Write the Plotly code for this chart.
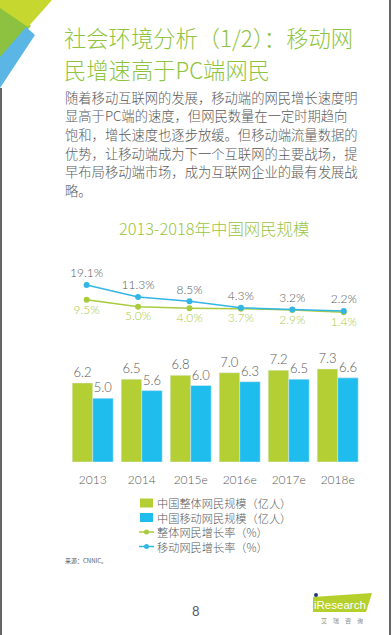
import plotly.graph_objects as go

W, H = 392, 635

# ---- data ----
years = ["2013", "2014", "2015e", "2016e", "2017e", "2018e"]
total_users = [6.2, 6.5, 6.8, 7.0, 7.2, 7.3]        # 中国整体网民规模（亿人）
mobile_users = [5.0, 5.6, 6.0, 6.3, 6.5, 6.6]       # 中国移动网民规模（亿人）
total_growth = [9.5, 5.0, 4.0, 3.7, 2.9, 1.4]       # 整体网民增长率（%）
mobile_growth = [19.1, 11.3, 8.5, 4.3, 3.2, 2.2]    # 移动网民增长率（%）
series_names = ["中国整体网民规模（亿人）", "中国移动网民规模（亿人）",
                "整体网民增长率（%）", "移动网民增长率（%）"]

title_lines = ["社会环境分析（1/2）：移动网", "民增速高于PC端网民"]
body_lines = [
    "随着移动互联网的发展，移动端的网民增长速度明",
    "显高于PC端的速度，但网民数量在一定时期趋向",
    "饱和，增长速度也逐步放缓。但移动端流量数据的",
    "优势，让移动端成为下一个互联网的主要战场，提",
    "早布局移动端市场，成为互联网企业的最有发展战",
    "略。",
]
chart_title = "2013-2018年中国网民规模"
source_text = "来源：CNNIC。"

GREEN_BAR = "#B3CF34"
BLUE_BAR = "#1FBDEE"
GREEN_LINE = "#A8CB3E"
BLUE_LINE = "#33B6E6"
GRAY = "#595959"
TITLE_GREEN = "#8FC43F"
CJK = "Noto Sans CJK SC"
NUM = "Lato"


def px(x):
    return x / W


def py(y):
    return 1 - y / H


fig = go.Figure()

fig.add_trace(go.Bar(
    x=years, y=total_users, name=series_names[0], marker_color=GREEN_BAR,
    text=[f"{v:.1f}" for v in total_users], textposition="outside",
    textfont=dict(color=GRAY, size=13, family=NUM, weight=300), cliponaxis=False,
    xaxis="x", yaxis="y", showlegend=False))
fig.add_trace(go.Bar(
    x=years, y=mobile_users, name=series_names[1], marker_color=BLUE_BAR,
    text=[f"{v:.1f}" for v in mobile_users], textposition="outside",
    textfont=dict(color=GRAY, size=13, family=NUM, weight=300), cliponaxis=False,
    xaxis="x", yaxis="y", showlegend=False))
fig.add_trace(go.Scatter(
    x=years, y=total_growth, name=series_names[2], mode="lines+markers+text",
    line=dict(color=GREEN_LINE, width=1.5), marker=dict(size=6, color=GREEN_LINE),
    text=[f"{v:.1f}%" for v in total_growth], textposition="bottom center",
    textfont=dict(color="#A9C94A", size=12, family=NUM, weight=300), cliponaxis=False,
    xaxis="x2", yaxis="y2", showlegend=False))
fig.add_trace(go.Scatter(
    x=years, y=mobile_growth, name=series_names[3], mode="lines+markers+text",
    line=dict(color=BLUE_LINE, width=1.5), marker=dict(size=6, color=BLUE_LINE),
    text=[f"{v:.1f}%" for v in mobile_growth], textposition="top center",
    textfont=dict(color=GRAY, size=12, family=NUM, weight=300), cliponaxis=False,
    xaxis="x2", yaxis="y2", showlegend=False))

xdom = [px(68.2), px(362.2)]
fig.update_layout(
    width=W, height=H, margin=dict(l=0, r=0, t=0, b=0),
    paper_bgcolor="white", plot_bgcolor="rgba(0,0,0,0)",
    barmode="group", bargap=0.163, bargroupgap=0,
    font=dict(family=CJK, color=GRAY),
    xaxis=dict(domain=xdom, anchor="y", showgrid=False, zeroline=False, showline=False,
               tickfont=dict(size=12, color=GRAY, family=NUM, weight=300), ticks="",
               ticklabelstandoff=9),
    yaxis=dict(domain=[py(462), py(360)], range=[0, 8], visible=False, anchor="x"),
    xaxis2=dict(domain=xdom, anchor="y2", visible=False),
    yaxis2=dict(domain=[py(314.4), py(283.6)], range=[0, 20], visible=False, anchor="x2"),
    showlegend=False,
)

ann = []
shapes = []
# top-left decoration
shapes.append(dict(type="path", xref="paper", yref="paper",
                   path=f"M {px(0)},{py(4)} L {px(31)},{py(26)} L {px(0)},{py(58)} Z",
                   fillcolor="#8CC23F", line=dict(width=0)))
shapes.append(dict(type="path", xref="paper", yref="paper",
                   path=f"M {px(0)},{py(0)} L {px(52)},{py(0)} L {px(28)},{py(27)} L {px(0)},{py(8)} Z",
                   fillcolor="#C6D830", line=dict(width=0)))
shapes.append(dict(type="path", xref="paper", yref="paper",
                   path=f"M {px(26)},{py(27)} L {px(35)},{py(35)} L {px(0)},{py(88)} L {px(0)},{py(57)} Z",
                   fillcolor="#5BB6E6", line=dict(width=0)))
# page borders
shapes.append(dict(type="line", xref="paper", yref="paper", x0=px(1), x1=px(1), y0=0, y1=py(88),
                   line=dict(color="#666666", width=2)))
shapes.append(dict(type="line", xref="paper", yref="paper", x0=px(390), x1=px(390), y0=0, y1=1,
                   line=dict(color="#666666", width=2)))

# title, one text per line
for i, t in enumerate(title_lines):
    ann.append(dict(text=t, x=px(62), y=py(36.8 + 32.2 * i), xref="paper", yref="paper",
                    xanchor="left", yanchor="middle", showarrow=False,
                    font=dict(size=22.3, color=TITLE_GREEN, family=CJK, weight=300)))
# body, one text per line
for i, t in enumerate(body_lines):
    ann.append(dict(text=t, x=px(63), y=py(97.5 + 18.5 * i), xref="paper", yref="paper",
                    xanchor="left", yanchor="middle", showarrow=False,
                    font=dict(size=13.3, color=GRAY, family=CJK, weight=300)))
# chart title
ann.append(dict(text=chart_title, x=px(214), y=py(228), xref="paper", yref="paper",
                xanchor="center", yanchor="middle", showarrow=False,
                font=dict(size=16.4, color="#9BC53F", family=CJK, weight=300)))

# legend (manual, compact)
leg_y = [503, 517.5, 532, 546.5]
leg_colors = [GREEN_BAR, BLUE_BAR, GREEN_LINE, BLUE_LINE]
for i, name in enumerate(series_names):
    yc = leg_y[i]
    if i < 2:
        shapes.append(dict(type="rect", xref="paper", yref="paper",
                           x0=px(140), x1=px(153), y0=py(yc + 4.5), y1=py(yc - 4.5),
                           fillcolor=leg_colors[i], line=dict(width=0)))
    else:
        shapes.append(dict(type="line", xref="paper", yref="paper",
                           x0=px(139), x1=px(154), y0=py(yc), y1=py(yc),
                           line=dict(color=leg_colors[i], width=1.5)))
        shapes.append(dict(type="circle", xref="paper", yref="paper",
                           x0=px(144), x1=px(149), y0=py(yc + 2.5), y1=py(yc - 2.5),
                           fillcolor=leg_colors[i], line=dict(width=0)))
ann.append(dict(text="<br>".join(series_names), x=px(155), y=py(sum(leg_y) / 4),
                xref="paper", yref="paper", xanchor="left", yanchor="middle", align="left",
                showarrow=False, font=dict(size=11.2, color=GRAY, family=CJK, weight=300)))

# source
ann.append(dict(text=source_text, x=px(63), y=py(560), xref="paper", yref="paper",
                xanchor="left", yanchor="middle", showarrow=False,
                font=dict(size=6, color=GRAY, family=CJK)))
# page number
ann.append(dict(text="8", x=px(196), y=py(611), xref="paper", yref="paper",
                xanchor="center", yanchor="middle", showarrow=False,
                font=dict(size=13, color=GRAY, family=NUM)))
# logo
shapes.append(dict(type="path", xref="paper", yref="paper",
                   path=f"M {px(313)},{py(597)} L {px(372)},{py(593)} L {px(366)},{py(612)} L {px(313)},{py(612)} Z",
                   fillcolor="#B5CF2C", line=dict(width=0)))
shapes.append(dict(type="circle", xref="paper", yref="paper",
                   x0=px(314), x1=px(318), y0=py(597), y1=py(593),
                   fillcolor="#1F3C7A", line=dict(width=0)))
ann.append(dict(text="iResearch", x=px(312), y=py(605), xref="paper", yref="paper",
                xanchor="left", yanchor="middle", showarrow=False,
                font=dict(size=11.5, color="white", family="Liberation Sans")))
ann.append(dict(text="艾　瑞　咨　询", x=px(342), y=py(620), xref="paper", yref="paper",
                xanchor="center", yanchor="middle", showarrow=False,
                font=dict(size=6, color="#888888", family=CJK)))

fig.update_layout(annotations=ann, shapes=shapes)
fig.write_html("out.html", config={"displayModeBar": False},
               post_script="document.body.style.margin='0';document.body.style.overflow='hidden';")
